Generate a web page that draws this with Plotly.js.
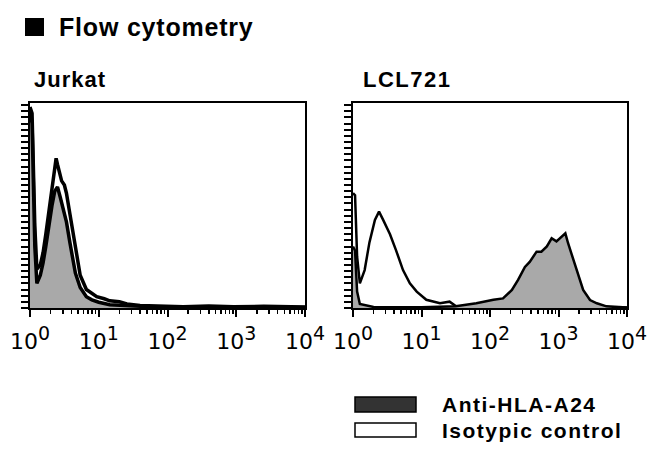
<!DOCTYPE html>
<html>
<head>
<meta charset="utf-8">
<script src="https://cdn.plot.ly/plotly-3.0.1.min.js"></script>
<style>html,body{margin:0;padding:0;background:#fff;}#chart{width:650px;height:458px;}</style>
</head>
<body>
<div id="chart"></div>
<script>
// ---- Data (x in decades of fluorescence, y = relative cell count) ----
var jurkatIsoDec = [0, 0.03, 0.07, 0.10, 0.15, 0.19, 0.23, 0.27, 0.32, 0.36, 0.38, 0.40, 0.43, 0.46, 0.50, 0.53, 0.58, 0.62, 0.66, 0.73, 0.82, 0.90, 0.97, 1.08, 1.16, 1.30, 1.41, 1.60, 1.75, 2.0, 2.23, 2.6, 2.96, 3.4, 3.7, 4.0];
var jurkatIsoCount = [0.98, 0.95, 0.40, 0.19, 0.21, 0.27, 0.36, 0.46, 0.59, 0.69, 0.73, 0.70, 0.66, 0.62, 0.60, 0.56, 0.46, 0.38, 0.30, 0.16, 0.09, 0.07, 0.055, 0.045, 0.035, 0.03, 0.02, 0.012, 0.01, 0.008, 0.006, 0.01, 0.006, 0.008, 0.006, 0.005];
var jurkatHlaDec = [0, 0.03, 0.07, 0.10, 0.15, 0.19, 0.23, 0.27, 0.32, 0.36, 0.40, 0.44, 0.48, 0.53, 0.58, 0.62, 0.66, 0.73, 0.82, 0.90, 1.0, 1.16, 1.41, 1.75, 2.23, 2.96, 4.0];
var jurkatHlaCount = [0.96, 0.90, 0.30, 0.12, 0.16, 0.22, 0.30, 0.40, 0.50, 0.57, 0.59, 0.54, 0.48, 0.42, 0.32, 0.24, 0.17, 0.10, 0.055, 0.04, 0.028, 0.016, 0.01, 0.006, 0.004, 0.004, 0.003];

var lclIsoDec = [0, 0.03, 0.06, 0.10, 0.17, 0.24, 0.32, 0.38, 0.44, 0.54, 0.63, 0.73, 0.83, 0.93, 1.07, 1.27, 1.41, 1.5, 1.6, 2.1, 2.58, 3.0, 3.5, 4.0];
var lclIsoCount = [0.56, 0.55, 0.25, 0.12, 0.185, 0.32, 0.43, 0.47, 0.43, 0.36, 0.28, 0.185, 0.12, 0.08, 0.04, 0.023, 0.031, 0.01, 0.005, 0.004, 0.004, 0.003, 0.003, 0.003];
var lclHlaDec = [0, 0.03, 0.06, 0.1, 0.3, 1.0, 1.5, 1.80, 2.05, 2.19, 2.32, 2.41, 2.51, 2.58, 2.68, 2.75, 2.83, 2.90, 2.97, 3.05, 3.10, 3.14, 3.22, 3.29, 3.36, 3.46, 3.56, 3.70, 3.90, 4.0];
var lclHlaCount = [0.30, 0.28, 0.08, 0.02, 0.005, 0.004, 0.008, 0.023, 0.04, 0.047, 0.088, 0.137, 0.20, 0.225, 0.275, 0.275, 0.30, 0.34, 0.325, 0.35, 0.364, 0.316, 0.234, 0.153, 0.088, 0.039, 0.023, 0.008, 0.002, 0.002];

var panelTitles = ["Jurkat", "LCL721"];
var seriesNames = ["Anti-HLA-A24", "Isotypic control"];
var majorTickVals = [1, 10, 100, 1000, 10000];
var majorTickBase = ["10", "10", "10", "10", "10"];
var majorTickExp = ["0", "1", "2", "3", "4"];
var chartTitle = "Flow cytometry";

function toLin(arr){ return arr.map(function(d){ return Math.pow(10, d); }); }
var minorVals = [];
for (var e = 0; e < 4; e++) for (var m = 2; m <= 9; m++) minorVals.push(m * Math.pow(10, e));
var majorTickText = majorTickBase.map(function(b, i){
  return b + '<sup><span style="font-size:19px">' + majorTickExp[i] + '</span></sup>';
});

var W = 650, H = 458;
function px(x){ return x / W; }
function py(y){ return 1 - y / H; }
var FONT = 'Arial, Liberation Sans, sans-serif';
var TICKFONT = 'DejaVu Sans, sans-serif';

var grayFill = '#a9a9a9';
var traces = [
  {x: toLin(jurkatIsoDec), y: jurkatIsoCount, xaxis: 'x', yaxis: 'y', type: 'scatter', mode: 'lines', fill: 'tozeroy', fillcolor: '#ffffff', line: {color: '#000', width: 3.5}, name: seriesNames[1], showlegend: false},
  {x: toLin(jurkatHlaDec), y: jurkatHlaCount, xaxis: 'x', yaxis: 'y', type: 'scatter', mode: 'lines', fill: 'tozeroy', fillcolor: grayFill, line: {color: '#000', width: 3.5}, name: seriesNames[0], showlegend: false},
  {x: toLin(lclIsoDec), y: lclIsoCount, xaxis: 'x2', yaxis: 'y2', type: 'scatter', mode: 'lines', fill: 'tozeroy', fillcolor: '#ffffff', line: {color: '#000', width: 2.5}, name: seriesNames[1], showlegend: false},
  {x: toLin(lclHlaDec), y: lclHlaCount, xaxis: 'x2', yaxis: 'y2', type: 'scatter', mode: 'lines', fill: 'tozeroy', fillcolor: grayFill, line: {color: '#000', width: 2.5}, name: seriesNames[0], showlegend: false}
];

function xax(domain, anchor){
  return {
    domain: domain, anchor: anchor, type: 'log', range: [0, 4],
    showline: true, mirror: true, linecolor: '#000', linewidth: 2,
    showgrid: false, zeroline: false,
    tickmode: 'array', tickvals: majorTickVals, ticktext: majorTickText,
    ticks: 'outside', ticklen: 7, tickwidth: 2, tickcolor: '#000',
    ticklabelstandoff: 6,
    minor: {tickmode: 'array', tickvals: minorVals, ticks: 'outside', ticklen: 4, tickwidth: 1.5, tickcolor: '#000', showgrid: false},
    tickfont: {family: TICKFONT, size: 22, color: '#000'},
    fixedrange: true
  };
}
function yax(domain, anchor){
  return {
    domain: domain, anchor: anchor, range: [0, 1.0],
    showline: true, mirror: true, linecolor: '#000', linewidth: 2,
    showgrid: false, zeroline: false, showticklabels: false,
    tickmode: 'linear', tick0: 0, dtick: 0.03,
    ticks: 'outside', ticklen: 7, tickwidth: 2, tickcolor: '#000',
    fixedrange: true
  };
}
function spaced(t, ls){ return '<b><span style="letter-spacing:' + ls + 'px">' + t + '</span></b>'; }

var yDom = [py(308), py(103)];
var layout = {
  width: W, height: H,
  margin: {l: 0, r: 0, t: 0, b: 0},
  paper_bgcolor: '#fff', plot_bgcolor: '#fff',
  showlegend: false,
  xaxis: xax([px(30), px(305)], 'y'),
  yaxis: yax(yDom, 'x'),
  xaxis2: xax([px(353), px(627)], 'y2'),
  yaxis2: yax(yDom, 'x2'),
  shapes: [
    {type: 'rect', xref: 'paper', yref: 'paper', x0: px(25), x1: px(44), y0: py(36), y1: py(18), fillcolor: '#000', line: {width: 0}},
    {type: 'rect', xref: 'paper', yref: 'paper', x0: px(355), x1: px(416), y0: py(412), y1: py(397), fillcolor: '#333', line: {color: '#000', width: 1.5}},
    {type: 'rect', xref: 'paper', yref: 'paper', x0: px(355), x1: px(416), y0: py(437), y1: py(423), fillcolor: '#fff', line: {color: '#000', width: 1.5}}
  ],
  annotations: [
    {text: spaced(chartTitle, 0.8), xref: 'paper', yref: 'paper', x: px(57), y: py(27), xanchor: 'left', yanchor: 'middle', showarrow: false, font: {family: FONT, size: 25, color: '#000'}},
    {text: spaced(panelTitles[0], 1), xref: 'paper', yref: 'paper', x: px(32), y: py(80), xanchor: 'left', yanchor: 'middle', showarrow: false, font: {family: FONT, size: 22, color: '#000'}},
    {text: spaced(panelTitles[1], 1.5), xref: 'paper', yref: 'paper', x: px(361), y: py(80), xanchor: 'left', yanchor: 'middle', showarrow: false, font: {family: FONT, size: 22, color: '#000'}},
    {text: spaced(seriesNames[0], 1.5), xref: 'paper', yref: 'paper', x: px(440), y: py(404), xanchor: 'left', yanchor: 'middle', showarrow: false, font: {family: FONT, size: 21, color: '#000'}},
    {text: spaced(seriesNames[1], 1.5), xref: 'paper', yref: 'paper', x: px(440), y: py(430), xanchor: 'left', yanchor: 'middle', showarrow: false, font: {family: FONT, size: 21, color: '#000'}}
  ]
};

Plotly.newPlot('chart', traces, layout, {displayModeBar: false, staticPlot: true});
</script>
</body>
</html>
